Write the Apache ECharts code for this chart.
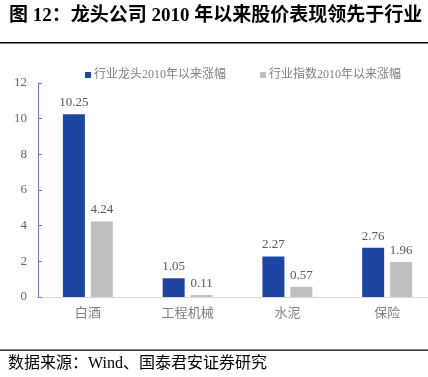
<!DOCTYPE html>
<html lang="zh">
<head>
<meta charset="UTF-8">
<title>龙头公司股价表现</title>
<script src="https://cdn.jsdelivr.net/npm/echarts@6/dist/echarts.min.js"></script>
<style>
  html, body { margin: 0; padding: 0; background: #fff; }
  #dv { width: 428px; height: 377px; }
</style>
</head>
<body>
<div id="dv"></div>
<script>
var categories = ['白酒', '工程机械', '水泥', '保险']
var leaderName = '行业龙头2010年以来涨幅'
var indexName = '行业指数2010年以来涨幅'
var leaderValues = [10.25, 1.05, 2.27, 2.76]
var indexValues = [4.24, 0.11, 0.57, 1.96]

var serif = '"Liberation Serif", "Noto Sans CJK SC", serif'
var chart = echarts.init(document.getElementById('dv'))

var option = {
    backgroundColor: '#fff',
    animation: false,
    graphic: [
        {
            type: 'text', left: 9, top: 7,
            style: {
                text: '图 12：龙头公司 2010 年以来股价表现领先于行业',
                font: 'bold 19px ' + serif, fill: '#000'
            }
        },
        { type: 'rect', shape: { x: 0, y: 42, width: 428, height: 1.5 }, style: { fill: '#000' } },
        { type: 'rect', shape: { x: 0, y: 349.5, width: 428, height: 1.2 }, style: { fill: '#000' } },
        {
            type: 'text', left: 8, top: 356,
            style: {
                text: '数据来源：Wind、国泰君安证券研究',
                font: '16px ' + serif, fill: '#000'
            }
        }
    ],
    legend: {
        left: 80, top: 64,
        icon: 'rect', itemWidth: 6, itemHeight: 6, itemGap: 34,
        textStyle: { fontSize: 12, color: '#7f7f7f', fontFamily: serif, padding: [0, 0, 0, -2] },
        data: [leaderName, indexName]
    },
    grid: { left: 38, top: 83, width: 399, height: 214, containLabel: false, outerBoundsMode: 'none' },
    xAxis: {
        type: 'category',
        data: categories,
        axisLine: { lineStyle: { color: '#d9d9d9', width: 1 } },
        axisTick: { show: false },
        axisLabel: { color: '#7f7f7f', fontSize: 13, fontFamily: serif, margin: 10 }
    },
    yAxis: {
        type: 'value',
        min: 0, max: 12, interval: 2,
        splitLine: { show: false },
        axisLine: { show: true, lineStyle: { color: '#7a6fd6', width: 1 } },
        axisTick: { show: true, inside: true, length: 4, lineStyle: { color: '#7a6fd6' } },
        axisLabel: { color: '#666', fontSize: 13, fontFamily: serif, margin: 11 }
    },
    series: [
        {
            name: leaderName, type: 'bar', data: leaderValues,
            barWidth: 22, barGap: '27%',
            itemStyle: { color: '#1f45a3' },
            label: { show: true, position: 'top', distance: 5, color: '#595959', fontSize: 13, fontFamily: serif }
        },
        {
            name: indexName, type: 'bar', data: indexValues,
            barWidth: 22,
            itemStyle: { color: '#bfbfbf' },
            label: { show: true, position: 'top', distance: 5, color: '#595959', fontSize: 13, fontFamily: serif }
        }
    ]
}
chart.setOption(option)
</script>
</body>
</html>
